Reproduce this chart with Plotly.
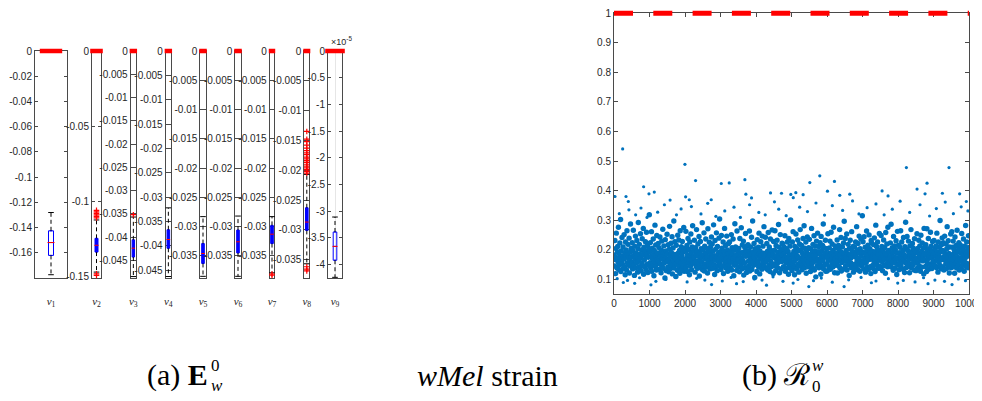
import plotly.graph_objects as go

# ================= DATA =================
# ---- panel (a): boxplot statistics of the sensitivity indices E_w^0 ----
param_labels = ["<i>ν</i><sub>1</sub>", "<i>ν</i><sub>2</sub>", "<i>ν</i><sub>3</sub>",
                "<i>ν</i><sub>4</sub>", "<i>ν</i><sub>5</sub>", "<i>ν</i><sub>6</sub>",
                "<i>ν</i><sub>7</sub>", "<i>ν</i><sub>8</sub>", "<i>ν</i><sub>9</sub>"]
q1_vals  = [-0.1620, -0.1335, -0.0443, -0.0405, -0.0363, -0.0345, -0.0329, -0.0301, -3.92e-5]
med_vals = [-0.1518, -0.1290, -0.0424, -0.0387, -0.0346, -0.0326, -0.0313, -0.0287, -3.66e-5]
q3_vals  = [-0.1425, -0.1244, -0.0406, -0.0367, -0.0329, -0.0306, -0.0298, -0.0263, -3.39e-5]
lo_whisk = [-0.1773, -0.1468, -0.0485, -0.0463, -0.0385, -0.0385, -0.0379, -0.0357, -4.24e-5]
hi_whisk = [-0.1280, -0.1122, -0.0357, -0.0322, -0.0283, -0.0282, -0.0283, -0.0207, -3.11e-5]
outlier_vals = [
    [0.0],
    [0.0, -0.1058, -0.1068, -0.1078, -0.1088, -0.1098, -0.1108, -0.1480, -0.1490],
    [0.0, -0.0352],
    [0.0],
    [0.0],
    [0.0],
    [0.0, -0.0381, -0.0383],
    [0.0, -0.0135, -0.0148, -0.0152, -0.0158, -0.0163, -0.0167, -0.0171, -0.0174, -0.0178,
     -0.0181, -0.0184, -0.0187, -0.0190, -0.0193, -0.0196, -0.0199, -0.0202, -0.0205,
     -0.0362, -0.0366, -0.0369],
    [0.0],
]
y_lower_limits = [-0.1795, -0.1504, -0.0487, -0.0465, -0.0387, -0.0387, -0.0387, -0.0380, -4.243e-5]
ytick_sets = [
    [0, -0.02, -0.04, -0.06, -0.08, -0.1, -0.12, -0.14, -0.16],
    [0, -0.05, -0.1, -0.15],
    [0, -0.005, -0.01, -0.015, -0.02, -0.025, -0.03, -0.035, -0.04, -0.045],
    [0, -0.005, -0.01, -0.015, -0.02, -0.025, -0.03, -0.035, -0.04, -0.045],
    [0, -0.005, -0.01, -0.015, -0.02, -0.025, -0.03, -0.035],
    [0, -0.005, -0.01, -0.015, -0.02, -0.025, -0.03, -0.035],
    [0, -0.005, -0.01, -0.015, -0.02, -0.025, -0.03, -0.035],
    [0, -0.005, -0.01, -0.015, -0.02, -0.025, -0.03, -0.035],
    [0, -0.5, -1, -1.5, -2, -2.5, -3, -3.5, -4],
]
exp_scale_v9 = 1e5   # nu_9 is displayed in units of 1e-5

# ---- panel (b): R_0^w samples (dense band, values in thousandths) ----
r0w_milli = [
182,145,231,167,119,204,256,173,138,192,211,158,276,133,187,149,223,171,302,126,196,164,241,152,178,
209,137,168,251,142,187,115,226,174,199,131,264,156,183,218,147,172,239,121,191,163,287,144,205,176,
158,224,135,197,266,149,181,113,212,169,246,139,188,157,231,176,124,203,292,161,142,218,185,134,254,
171,128,199,153,237,183,146,272,117,208,165,194,141,227,178,132,259,186,151,214,123,174,201,147,318,
193,156,224,139,178,261,127,205,169,148,236,184,112,197,159,283,143,216,175,131,248,166,189,154,221,
162,207,134,185,243,151,176,122,198,229,144,168,269,137,190,213,155,181,104,234,172,196,129,160,252,
186,141,217,166,125,202,279,153,179,136,222,191,148,244,118,174,206,163,297,138,184,227,150,170,109,
215,152,177,130,249,188,161,233,143,197,120,264,173,156,210,135,181,228,167,142,193,275,127,204,159,
148,195,262,140,172,214,126,183,238,157,201,168,115,226,179,146,253,188,132,165,209,281,154,176,198,
173,232,156,124,207,185,143,268,161,194,137,219,178,150,245,111,189,166,228,139,203,174,158,291,132,
199,145,183,257,128,212,169,152,236,187,141,174,203,121,271,162,194,148,225,177,135,208,159,186,243,
154,219,172,137,196,284,149,180,116,231,165,202,143,257,176,129,211,160,188,145,239,171,304,152,193,
187,133,248,166,205,144,178,226,119,195,163,272,151,182,214,138,169,246,157,199,127,186,221,148,175,
226,162,139,193,175,251,131,207,184,157,236,170,112,198,147,288,176,209,153,181,130,263,167,195,141,
165,204,182,125,238,157,189,146,274,172,135,216,191,163,229,114,183,154,207,139,255,178,197,123,213,
138,181,217,161,144,196,263,128,174,209,151,185,242,133,168,297,158,192,147,221,176,106,203,165,189,
201,153,126,234,179,162,208,141,256,186,118,195,171,227,149,183,134,246,164,212,155,188,278,143,172,
177,242,159,188,136,221,167,195,131,258,175,148,209,182,126,236,161,197,143,178,267,152,184,119,228,
146,173,198,264,152,129,214,180,163,232,140,191,157,285,176,208,122,169,251,187,135,199,160,222,181,
219,164,142,186,208,171,247,127,192,155,203,174,138,226,163,194,117,238,181,149,212,166,301,158,136,
183,129,226,149,261,177,194,160,115,211,142,187,253,168,135,204,179,233,151,196,124,172,219,145,268,
157,198,172,214,132,189,146,238,176,163,281,139,205,155,183,226,120,197,168,243,142,185,158,207,174,
235,144,181,126,203,167,272,152,191,138,218,179,159,247,131,196,173,212,108,184,229,161,145,256,193,
168,211,139,192,156,224,184,117,245,171,197,143,214,162,287,135,178,206,149,189,232,127,174,152,203,
128,175,254,163,187,141,206,178,229,134,166,259,190,151,219,174,141,197,276,158,183,122,213,169,147,
206,153,188,233,121,175,161,214,145,199,268,138,182,165,241,128,191,157,209,176,134,223,187,296,162,
174,238,146,169,197,253,131,185,162,218,149,176,113,204,183,232,156,172,139,261,195,148,179,211,124,
191,137,209,177,152,226,184,143,278,165,199,132,221,170,154,246,188,127,203,160,236,178,145,192,315,
152,227,163,135,244,190,172,208,124,185,157,263,141,198,176,215,133,181,250,167,203,142,189,119,231,
223,169,195,147,181,136,217,160,240,178,126,193,283,154,211,171,148,226,186,137,199,164,255,175,143,
137,186,248,172,211,159,129,198,178,233,146,167,207,189,120,258,174,151,219,183,142,276,162,197,170,
194,148,175,223,163,286,141,182,206,157,191,130,245,176,213,165,138,201,155,230,172,116,188,262,149,
169,215,132,190,154,208,177,264,145,171,226,185,159,197,134,241,168,183,123,210,157,293,176,140,202,
245,158,197,143,229,167,186,122,213,179,152,268,139,193,175,221,148,206,164,186,131,237,171,198,155,
129,192,171,254,137,204,159,188,232,146,181,213,166,127,249,175,194,141,223,162,179,205,118,272,187,
208,166,143,217,184,126,271,155,198,169,238,134,176,203,151,189,259,143,212,173,136,196,228,160,181,
153,231,187,162,204,145,177,213,139,256,168,192,124,226,184,157,208,172,299,146,194,135,217,167,240,
197,140,224,176,131,192,246,164,183,151,219,136,203,278,159,175,230,148,187,121,209,166,183,253,139,
176,261,154,208,167,229,185,142,199,120,243,172,156,214,188,138,266,161,197,174,149,224,131,205,168,
216,163,189,135,255,174,147,201,181,236,158,127,212,169,194,282,143,186,226,153,178,207,139,247,192,
]
sample_index = list(range(5, 10000, 10))   # subsample index for the dense band

# ---- panel (b): isolated / fringe samples (index, value) ----
fringe_index = [244, 1998, 2298, 3021, 3246, 3687, 4409, 5797, 5516, 6210, 8236, 9437, 8818, 835, 985,
                1135, 28, 338, 403, 2017, 2120, 2739, 3715, 3874, 4719, 4981, 5122, 5328, 6013, 6360,
                6642, 7552, 7720, 8537, 8762, 9250, 9737, 9925,
                582, 1041, 5488, 6482, 263, 2749, 7992, 9522, 4296, 3452, 5047, 7251, 8846,
                150, 420, 610, 760, 930, 1230, 1420, 1580, 1760, 1890, 2180, 2450, 2640, 2870, 3120,
                3380, 3560, 3820, 4080, 4260, 4520, 4640, 4850, 5050, 5230, 5450, 5690, 5930, 6150,
                6440, 6720, 6900, 7130, 7380, 7610, 7840, 8060, 8330, 8620, 8890, 9080, 9330, 9560,
                9780, 9970,
                90, 380, 720, 1180, 1460, 1720, 2060, 2330, 2560, 3050, 3300, 3640, 3950, 4170, 4480,
                4760, 5180, 5620, 5840, 6150, 6610, 6960, 7380, 7730, 8150, 8480, 8720, 9040, 9310,
                9700, 9900]
fringe_value = [0.541, 0.489, 0.434, 0.424, 0.426, 0.437, 0.392, 0.450, 0.427, 0.431, 0.478, 0.478,
                0.425, 0.413, 0.389, 0.395, 0.380, 0.380, 0.363, 0.379, 0.369, 0.369, 0.388, 0.375,
                0.391, 0.387, 0.393, 0.386, 0.398, 0.384, 0.388, 0.399, 0.382, 0.405, 0.389, 0.391,
                0.389, 0.363,
                0.086, 0.081, 0.075, 0.075, 0.089, 0.082, 0.087, 0.082, 0.080, 0.085, 0.087, 0.088,
                0.085,
                0.322, 0.335, 0.318, 0.341, 0.309, 0.327, 0.352, 0.368, 0.318, 0.338, 0.346, 0.321,
                0.357, 0.313, 0.331, 0.344, 0.309, 0.352, 0.326, 0.318, 0.362, 0.337, 0.315, 0.376,
                0.344, 0.329, 0.358, 0.317, 0.349, 0.333, 0.365, 0.321, 0.342, 0.355, 0.318, 0.337,
                0.364, 0.326, 0.352, 0.314, 0.339, 0.361, 0.322, 0.345, 0.331,
                0.102, 0.096, 0.105, 0.093, 0.099, 0.107, 0.091, 0.103, 0.097, 0.094, 0.106, 0.092,
                0.101, 0.097, 0.108, 0.093, 0.099, 0.095, 0.104, 0.090, 0.098, 0.106, 0.094, 0.102,
                0.096, 0.091, 0.105, 0.097, 0.093, 0.101, 0.095]
threshold_value = 1.0
xticks_b = [0, 1000, 2000, 3000, 4000, 5000, 6000, 7000, 8000, 9000, 10000]
yticks_b = [0.1, 0.2, 0.3, 0.4, 0.5, 0.6, 0.7, 0.8, 0.9, 1]

captions = ["(a) <b>E</b>", "<i>wMel</i> strain", "(b) ℛ"]

# ================= LAYOUT / STYLE =================
W, H = 982, 401
OFF = 8   # the page body has an 8px default margin: positions below are page pixels
TICKFONT = dict(family="Liberation Sans, Arial, sans-serif", size=10, color="#262626")
AXC = "#4a4a4a"

def fx(px):
    return (px - OFF) / W

def fy(py):
    return 1 - (py - OFF) / H

def fmt(v):
    return f"{v:g}"

axis_px = [(35, 67), (92, 101), (130.7, 136), (165.7, 171), (200.3, 205.7),
           (235.3, 240.7), (269.7, 274.3), (304.3, 309.3), (328, 342)]
box_px = [5, 3, 2.4, 2.6, 2.6, 2.6, 2.6, 2.6, 3.6]
TOP, BOT = 51, 277.5

fig = go.Figure()
layout = dict(width=W, height=H, margin=dict(l=0, r=0, t=0, b=0),
              paper_bgcolor="white", plot_bgcolor="rgba(0,0,0,0)", showlegend=False,
              template="none", font=TICKFONT)

for i in range(9):
    n = i + 1
    xa, ya = ("x", "y") if n == 1 else (f"x{n}", f"y{n}")
    s = exp_scale_v9 if n == 9 else 1.0
    x0, x1 = axis_px[i]
    ax_w = x1 - x0
    bw = box_px[i] / ax_w  # data units (x range spans 1.0)
    filled = ax_w < 12
    q1, md, q3 = q1_vals[i] * s, med_vals[i] * s, q3_vals[i] * s
    lw, uw = lo_whisk[i] * s, hi_whisk[i] * s

    fig.add_trace(go.Scatter(x=[1, 1, None, 1, 1], y=[q3, uw, None, q1, lw], mode="lines",
                             line=dict(color="black", width=1, dash="4px,3px"),
                             xaxis=xa, yaxis=ya, hoverinfo="skip"))
    fig.add_trace(go.Scatter(x=[1, 1], y=[uw, lw], mode="markers",
                             marker=dict(symbol="line-ew", size=4, line=dict(color="black", width=1)),
                             xaxis=xa, yaxis=ya, hoverinfo="skip", cliponaxis=False))
    fig.add_trace(go.Box(x=[1], q1=[q1], median=[md], q3=[q3], lowerfence=[q1], upperfence=[q3],
                         width=bw, line=dict(color="blue", width=1),
                         fillcolor="blue" if filled else "rgba(0,0,0,0)",
                         boxpoints=False, xaxis=xa, yaxis=ya, hoverinfo="skip"))
    fig.add_trace(go.Scatter(x=[1], y=[md], mode="markers",
                             marker=dict(symbol="line-ew", size=box_px[i],
                                         line=dict(color="red", width=1)),
                             xaxis=xa, yaxis=ya, hoverinfo="skip"))
    ov = [v * s for v in outlier_vals[i]]
    zero_o = [v for v in ov if v == 0]
    other_o = [v for v in ov if v != 0]
    if other_o:
        fig.add_trace(go.Scatter(x=[1] * len(other_o), y=other_o, mode="markers",
                                 marker=dict(symbol="cross-thin", size=4,
                                             line=dict(color="red", width=1.2)),
                                 xaxis=xa, yaxis=ya, hoverinfo="skip", cliponaxis=False))
    if zero_o:
        fig.add_trace(go.Scatter(x=[1] * len(zero_o), y=zero_o, mode="markers",
                                 marker=dict(symbol="line-ew", size=min(ax_w, 16),
                                             line=dict(color="red", width=4.5)),
                                 xaxis=xa, yaxis=ya, hoverinfo="skip", cliponaxis=False))

    kx = "xaxis" if n == 1 else f"xaxis{n}"
    ky = "yaxis" if n == 1 else f"yaxis{n}"
    layout[kx] = dict(domain=[fx(x0), fx(x1)], range=[0.5, 1.5], anchor=ya,
                      showline=True, mirror=True, linecolor=AXC, linewidth=1,
                      ticks="", tickvals=[1], ticktext=[param_labels[i]],
                      tickfont=dict(family="Liberation Serif, serif", size=11, color="#262626"),
                      ticklabelstandoff=13, showgrid=(n == 9), gridcolor="#e6e6e6",
                      zeroline=False, fixedrange=True, layer="below traces")
    tv = ytick_sets[i]
    layout[ky] = dict(domain=[fy(BOT), fy(TOP)], range=[y_lower_limits[i] * s, 0], anchor=xa,
                      showline=True, mirror="ticks", linecolor=AXC, linewidth=1,
                      ticks="inside", ticklen=3, tickcolor=AXC,
                      tickvals=tv, ticktext=[fmt(v) for v in tv], tickfont=TICKFONT,
                      ticklabeloverflow="allow",
                      showgrid=False, zeroline=False, fixedrange=True, layer="below traces")

# ---- panel (b) ----
BX0, BX1, BY0, BY1 = 614, 969, 13.3, 294
dense_y = [v / 1000 for v in r0w_milli]
fig.add_trace(go.Scatter(x=sample_index, y=dense_y, mode="markers",
                         marker=dict(color="#0072BD", size=5.4, line=dict(width=0)),
                         xaxis="x10", yaxis="y10", hoverinfo="skip"))
fig.add_trace(go.Scatter(x=fringe_index, y=fringe_value, mode="markers",
                         marker=dict(color="#0072BD", size=3.2, line=dict(width=0)),
                         xaxis="x10", yaxis="y10", hoverinfo="skip"))

y_lo_b = 0.05
layout["xaxis10"] = dict(domain=[fx(BX0), fx(BX1)], range=[xticks_b[0], xticks_b[-1]], anchor="y10",
                         showline=True, mirror="ticks", linecolor=AXC, linewidth=1,
                         ticks="inside", ticklen=4, tickcolor=AXC,
                         tickvals=xticks_b, ticktext=[str(v) for v in xticks_b], tickfont=TICKFONT,
                         ticklabeloverflow="allow",
                         showgrid=False, zeroline=False, layer="below traces")
layout["yaxis10"] = dict(domain=[fy(BY1), fy(BY0)], range=[y_lo_b, 1.0], anchor="x10",
                         showline=True, mirror="ticks", linecolor=AXC, linewidth=1,
                         ticks="inside", ticklen=4, tickcolor=AXC,
                         tickvals=yticks_b, ticktext=[fmt(v) for v in yticks_b], tickfont=TICKFONT,
                         ticklabeloverflow="allow",
                         showgrid=False, zeroline=False, layer="below traces")

# hidden companion axes (same scale, a few px taller) so the thick threshold line is not clipped
pad = 5
ppu = (BY1 - BY0) / (1.0 - y_lo_b)
layout["xaxis11"] = dict(domain=[fx(BX0), fx(BX1)], range=[xticks_b[0], xticks_b[-1]], anchor="y11",
                         visible=False)
layout["yaxis11"] = dict(domain=[fy(BY1), fy(BY0 - pad)], range=[y_lo_b, 1.0 + pad / ppu],
                         anchor="x11", visible=False)
fig.add_trace(go.Scatter(x=[xticks_b[0], xticks_b[-1]], y=[threshold_value, threshold_value],
                         mode="lines", line=dict(color="red", width=5, dash="19px,20.3px"),
                         xaxis="x11", yaxis="y11", hoverinfo="skip"))

# ---- annotations ----
ann = []
ann.append(dict(text="×10<sup>-5</sup>", x=fx(329), y=fy(49), xref="paper", yref="paper",
                xanchor="left", yanchor="bottom", showarrow=False,
                font=dict(family="Liberation Sans, Arial", size=9, color="#262626")))
CAP = dict(family="Liberation Serif, Times New Roman, serif", size=30, color="black")
CAPS = dict(family="Liberation Serif, Times New Roman, serif", size=17, color="black")
cy = 375
ann.append(dict(text=captions[0], x=fx(145), y=fy(cy), xref="paper", yref="paper",
                xanchor="left", yanchor="middle", showarrow=False, font=CAP))
ann.append(dict(text="0", x=fx(209), y=fy(cy - 10), xref="paper", yref="paper",
                xanchor="left", yanchor="middle", showarrow=False, font=CAPS))
ann.append(dict(text="<i>w</i>", x=fx(209), y=fy(cy + 10), xref="paper", yref="paper",
                xanchor="left", yanchor="middle", showarrow=False, font=CAPS))
ann.append(dict(text=captions[1], x=fx(487), y=fy(cy), xref="paper", yref="paper",
                xanchor="center", yanchor="middle", showarrow=False, font=CAP))
ann.append(dict(text=captions[2], x=fx(740), y=fy(cy), xref="paper", yref="paper",
                xanchor="left", yanchor="middle", showarrow=False, font=CAP))
ann.append(dict(text="<i>w</i>", x=fx(810), y=fy(cy - 10), xref="paper", yref="paper",
                xanchor="left", yanchor="middle", showarrow=False, font=CAPS))
ann.append(dict(text="0", x=fx(810), y=fy(cy + 11), xref="paper", yref="paper",
                xanchor="left", yanchor="middle", showarrow=False, font=CAPS))
layout["annotations"] = ann

fig.update_layout(**layout)
fig.write_html("out.html")
